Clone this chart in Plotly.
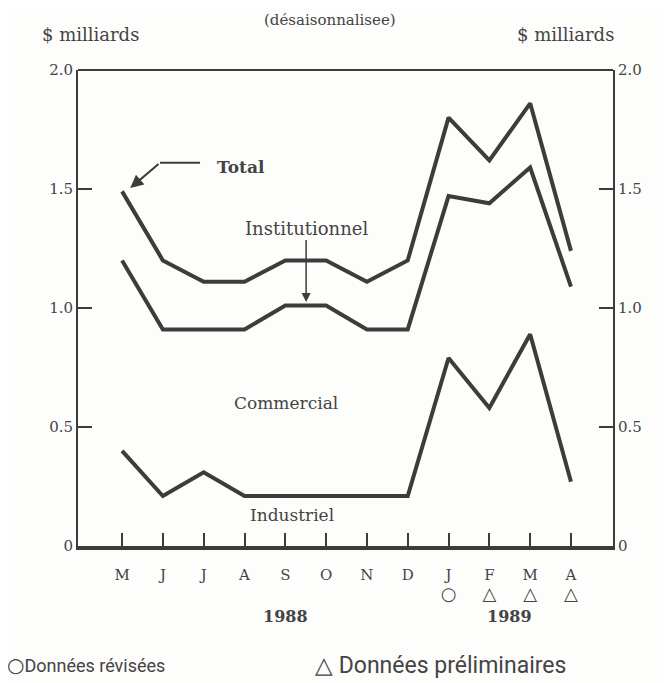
import plotly.graph_objects as go

# ===============================
# données (milliards $, désaisonnalisées)
# ===============================
months = ["M", "J", "J", "A", "S", "O", "N", "D", "J", "F", "M", "A"]
status = ["", "", "", "", "", "", "", "", "○", "△", "△", "△"]
total = [1.49, 1.20, 1.11, 1.11, 1.20, 1.20, 1.11, 1.20, 1.80, 1.62, 1.86, 1.24]
institutionnel = [1.20, 0.91, 0.91, 0.91, 1.01, 1.01, 0.91, 0.91, 1.47, 1.44, 1.59, 1.09]
commercial = [0.40, 0.21, 0.31, 0.21, 0.21, 0.21, 0.21, 0.21, 0.79, 0.58, 0.89, 0.27]
y_ticks = [0, 0.5, 1.0, 1.5, 2.0]
y_labels = ["0", "0.5", "1.0", "1.5", "2.0"]

INK = "#3a3d3a"
TEXT = "#444444"
SERIF = "DejaVu Serif, Liberation Serif, serif"
SANS = "Roboto, Noto Sans, sans-serif"

x = list(range(len(months)))
ticktext = [
    m + "<br>" + ('<span style="font-size:18px">' + s + "</span>" if s else " ")
    for m, s in zip(months, status)
]

fig = go.Figure()
for series in (total, institutionnel, commercial):
    fig.add_trace(
        go.Scatter(
            x=x,
            y=series,
            mode="lines",
            line=dict(color=INK, width=4),
            showlegend=False,
            hoverinfo="skip",
        )
    )
# trace invisible pour l'axe de droite
fig.add_trace(
    go.Scatter(x=x, y=total, yaxis="y2", mode="lines", line=dict(width=0),
               showlegend=False, hoverinfo="skip")
)

axis_common = dict(
    range=[0, 2.0],
    tickvals=y_ticks,
    ticktext=y_labels,
    ticks="inside",
    ticklen=14,
    tickwidth=2,
    tickcolor=INK,
    showgrid=False,
    zeroline=False,
    automargin=False,
    showline=True,
    linecolor=INK,
    linewidth=2,
    tickfont=dict(family=SERIF, size=15, color=TEXT),
)


def note(text, x, y, size=17, family=SERIF, xanchor="center", paper=False, **kw):
    d = dict(text=text, x=x, y=y, xanchor=xanchor, yanchor="middle",
             showarrow=False, font=dict(family=family, size=size, color=TEXT))
    if paper:
        d.update(xref="paper", yref="paper")
    d.update(kw)
    return d


fig.update_layout(
    width=671,
    height=683,
    paper_bgcolor="#fdfdfc",
    plot_bgcolor="#fdfdfc",
    margin=dict(l=70, r=66, t=62, b=145),
    xaxis=dict(
        range=[-1.08, 12.03],
        tickvals=x,
        ticktext=ticktext,
        ticks="inside",
        ticklen=13,
        tickwidth=2,
        tickcolor=INK,
        ticklabelstandoff=12,
        showgrid=False,
        zeroline=False,
        showline=True,
        linecolor=INK,
        linewidth=4,
        automargin=False,
        tickfont=dict(family=SERIF, size=15, color=TEXT),
    ),
    yaxis=dict(**axis_common, side="left"),
    yaxis2=dict(**axis_common, side="right", overlaying="y", matches="y"),
    shapes=[
        # cadre supérieur
        dict(type="line", xref="paper", yref="paper", x0=0, x1=1, y0=1, y1=1,
             line=dict(color=INK, width=2)),
        # trait horizontal de l'étiquette Total
        dict(type="line", xref="x", yref="y", x0=0.93, x1=1.91, y0=1.61, y1=1.61,
             line=dict(color=INK, width=2)),
    ],
    annotations=[
        note("(désaisonnalisee)", 0.471, 1.105, size=15, paper=True),
        note("$ milliards", -0.071, 1.074, size=18, xanchor="left", paper=True),
        note("$ milliards", 1.006, 1.074, size=18, xanchor="right", paper=True),
        note("<b>Total</b>", 2.28, 1.592, xanchor="left"),
        dict(text="", x=0.2, y=1.504, ax=0.93, ay=1.61, axref="x", ayref="y",
             showarrow=True, arrowhead=2, arrowsize=1.3, arrowwidth=2, arrowcolor=INK),
        dict(text="Institutionnel", x=4.51, y=1.025, ax=0, ay=-74, showarrow=True,
             arrowhead=2, arrowsize=1.2, arrowwidth=1.5, arrowcolor=INK,
             font=dict(family=SERIF, size=18, color=TEXT)),
        note("Commercial", 4.02, 0.60),
        note("Industriel", 4.17, 0.13),
        note("<b>1988</b>", 4.0, -0.149, size=16, xref="x", yref="paper"),
        note("<b>1989</b>", 9.5, -0.149, size=16, xref="x", yref="paper"),
        note('<span style="font-family:DejaVu Sans;font-size:20px">○</span>Données révisées',
             -0.136, -0.25, size=18, family=SANS, xanchor="left", paper=True),
        note("△ Données préliminaires", 0.439, -0.25,
             size=23, family=SANS, xanchor="left", paper=True),
    ],
)

fig.write_html("out.html")
